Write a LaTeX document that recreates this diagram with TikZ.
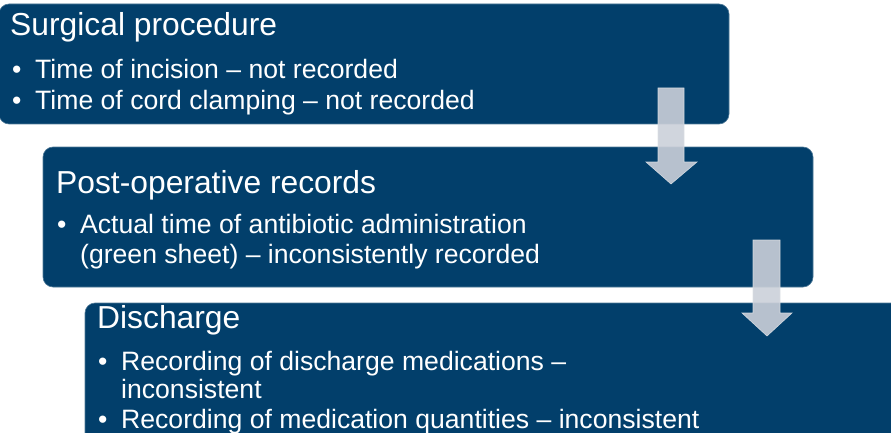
\documentclass[tikz,border=0pt]{standalone}
\usepackage{fontspec}
\setmainfont{Liberation Sans}
\definecolor{boxblue}{RGB}{2,63,107}
\definecolor{arrowgray}{RGB}{203,208,217}
\definecolor{arrowedge}{RGB}{218,222,228}
\begin{document}
\begin{tikzpicture}[x=1pt,y=-1pt,
  panel/.style={draw=boxblue!70!white,line width=0.6pt,fill=boxblue,rounded corners=10pt},
  ttl/.style={anchor=base west,inner sep=0pt,text=white,font=\fontsize{31.8}{31.8}\selectfont},
  txt/.style={anchor=base west,inner sep=0pt,text=white,font=\fontsize{26.6}{26.6}\selectfont},
  flowarrow/.style={fill=arrowgray,fill opacity=0.9,draw=arrowedge,line width=0.6pt,draw opacity=0.9}]
\useasboundingbox (0,0) rectangle (891,433);
\clip (0,0) rectangle (891,433);
% panels
\path[panel] (-1,4) rectangle (729,124);
\path[panel] (43,147) rectangle (813,287);
\path[panel] (85,303) rectangle (905,450);
% box 1
\node[ttl] (t1) at (10,36) {Surgical procedure};
\node[txt] (b1a) at (12,79) {\textbullet};
\node[txt] (l1a) at (35,79) {Time of incision – not recorded};
\node[txt] (b1b) at (12,110) {\textbullet};
\node[txt] (l1b) at (35,110) {Time of cord clamping – not recorded};
% box 2
\node[ttl] (t2) at (56,193) {Post-operative records};
\node[txt] (b2a) at (57,233) {\textbullet};
\node[txt] (l2a) at (80,233) {Actual time of antibiotic administration};
\node[txt] (l2b) at (80,263) {(green sheet) – inconsistently recorded};
% box 3
\node[ttl] (t3) at (97,328) {Discharge};
\node[txt] (b3a) at (98,370) {\textbullet};
\node[txt] (l3a) at (121,370) {Recording of discharge medications –};
\node[txt] (l3b) at (121,398) {inconsistent};
\node[txt] (b3b) at (98,428) {\textbullet};
\node[txt] (l3c) at (121,428) {Recording of medication quantities – inconsistent};
% arrows
\path[flowarrow] (658,88) -- (684,88) -- (684,162) -- (697,162) -- (671,184) -- (646,162) -- (658,162) -- cycle;
\path[flowarrow] (753,240) -- (780,240) -- (780,313) -- (792,313) -- (767,336) -- (742,313) -- (753,313) -- cycle;
\end{tikzpicture}
\end{document}
